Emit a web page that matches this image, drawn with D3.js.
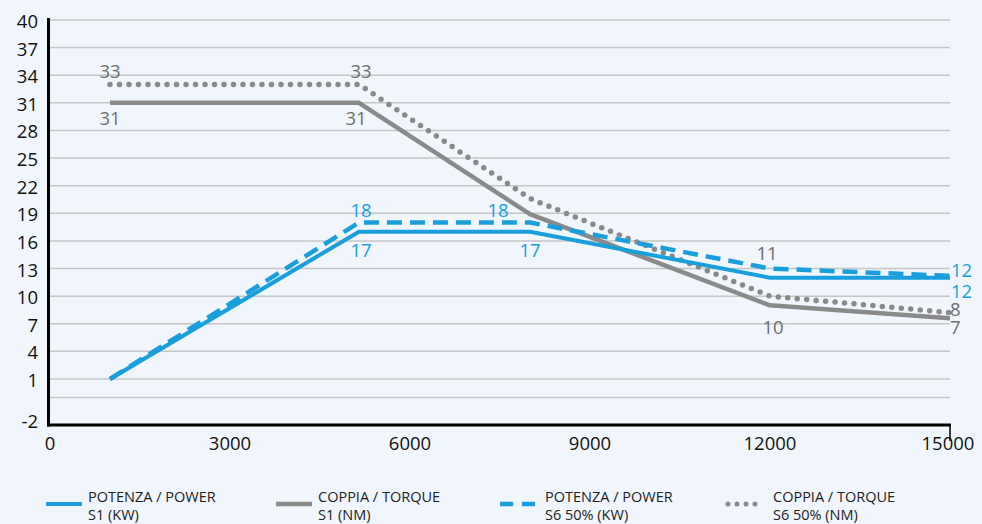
<!DOCTYPE html>
<html><head><meta charset="utf-8">
<script src="https://cdn.jsdelivr.net/npm/d3@7"></script>
<style>
html,body{margin:0;padding:0;background:#f1f6fd;}
svg{display:block;font-family:"Open Sans",sans-serif;}
</style></head>
<body><svg id="c" width="982" height="524"></svg>
<script>
// ---- data ----
const rpm = [1000, 5150, 8000, 12000, 15000];
const powerS1 = [1, 17, 17, 12, 12];
const torqueS1 = [31, 31, 18.9, 9, 7.6];
const powerS6 = [1, 18, 18, 13, 12.2];
const torqueS6 = [33, 33, 20.6, 10, 8.2];
const xTicks = [0, 3000, 6000, 9000, 12000, 15000];
const yTicks = [40, 37, 34, 31, 28, 25, 22, 19, 16, 13, 10, 7, 4, 1];
const yExtraGrid = [-1];
const yLastLabel = "-2";
const legendLabels = [["POTENZA / POWER","S1 (KW)"],["COPPIA / TORQUE","S1 (NM)"],["POTENZA / POWER","S6 50% (KW)"],["COPPIA / TORQUE","S6 50% (NM)"]];
// data labels: [x, y, text, series]
const pointLabels = [
  [1000, 33, "33", "t"], [1000, 31, "31", "t"],
  [5150, 33, "33", "t"], [5150, 31, "31", "t"],
  [5150, 18, "18", "p"], [5150, 17, "17", "p"],
  [8000, 18, "18", "p"], [8000, 17, "17", "p"],
  [12000, 13, "11", "t"], [12000, 9, "10", "t"],
  [15000, 12.2, "12", "p"], [15000, 12, "12", "p"],
  [15000, 8.2, "8", "t"], [15000, 7.6, "7", "t"]
];

const blue = "#199fdc", grey = "#8a8a8a", labGrey = "#6e6e6e";
const svg = d3.select("#c");
const x = d3.scaleLinear().domain([0, 15000]).range([50, 950]);
const y = d3.scaleLinear().domain([-4, 40]).range([425, 20]);

// grid
const gridVals = yTicks.concat(yExtraGrid);
svg.append("g").selectAll("line").data(gridVals).join("line")
  .attr("x1", 50).attr("x2", 950).attr("y1", d => y(d)).attr("y2", d => y(d))
  .attr("stroke", "#c6c6c6").attr("stroke-width", 1.5);

// y labels
const yl = svg.append("g").attr("font-size", 18.5).attr("fill", "#111").attr("text-anchor", "end");
yl.selectAll("text").data(yTicks).join("text")
  .attr("x", 38).attr("y", d => y(d) + 8).text(d => d);
yl.append("text").attr("x", 38).attr("y", y(-3.5) + 8).text(yLastLabel);

// axes
svg.append("line").attr("x1", 48.5).attr("x2", 48.5).attr("y1", 18).attr("y2", 426.5)
  .attr("stroke", "#000").attr("stroke-width", 3);
svg.append("line").attr("x1", 47).attr("x2", 951).attr("y1", 425).attr("y2", 425)
  .attr("stroke", "#000").attr("stroke-width", 3);
svg.append("line").attr("x1", x(15000)).attr("x2", x(15000)).attr("y1", 424).attr("y2", 441)
  .attr("stroke", "#000").attr("stroke-width", 1.5);
svg.append("g").attr("font-size", 18.5).attr("fill", "#111").attr("text-anchor", "middle")
  .selectAll("text").data(xTicks).join("text")
  .attr("x", d => d === 15000 ? x(d) - 2 : x(d)).attr("y", 450).text(d => d);

// lines
const line = d3.line().x(d => x(d[0])).y(d => y(d[1]));
const mk = v => rpm.map((r, i) => [r, v[i]]);
function draw(vals, color, dash, w, cap) {
  svg.append("path").attr("d", line(mk(vals))).attr("fill", "none")
    .attr("stroke", color).attr("stroke-width", w)
    .attr("stroke-dasharray", dash).attr("stroke-linecap", cap).attr("stroke-linejoin", "round");
}
draw(torqueS6, grey, "0 9.5", 5.5, "round");
draw(torqueS1, grey, null, 4.5, "butt");
draw(powerS6, blue, "15 8", 4.5, "butt");
draw(powerS1, blue, null, 4, "butt");

// point labels
const lblPos = {
  "1000|33": [0, -6], "1000|31": [0, 22],
  "5150|33": [2, -6], "5150|31": [-3, 22],
  "5150|18": [2, -6], "5150|17": [2, 25],
  "8000|18": [-32, -6], "8000|17": [0, 25],
  "12000|13": [-3, -9], "12000|9": [3, 29],
  "15000|12.2": [0, 1], "15000|12": [0, 20],
  "15000|8.2": [-1, 3], "15000|7.6": [-1, 16]
};
svg.append("g").attr("font-size", 18.5).selectAll("text").data(pointLabels).join("text")
  .attr("x", d => x(d[0]) + lblPos[d[0] + "|" + d[1]][0] + (d[0] === 15000 ? 1 : 0))
  .attr("y", d => y(d[1]) + lblPos[d[0] + "|" + d[1]][1])
  .attr("text-anchor", d => d[0] === 15000 ? "start" : "middle")
  .attr("fill", d => d[3] === "p" ? blue : labGrey)
  .text(d => d[2]);

// legend
const legX = [46, 276, 500, 725];
const legTX = [88, 318, 545, 773];
const legStyle = [[blue, null, 4, "butt"], [grey, null, 4.5, "butt"], [blue, "13 9", 4.5, "butt"], [grey, "0 9", 5, "round"]];
legendLabels.forEach((lab, i) => {
  const s = legStyle[i];
  const x2 = i === 3 ? legX[i] + 38 : legX[i] + 36;
  svg.append("line").attr("x1", i === 3 ? legX[i] + 3 : legX[i]).attr("x2", x2).attr("y1", 504).attr("y2", 504)
    .attr("stroke", s[0]).attr("stroke-width", s[2]).attr("stroke-dasharray", s[1]).attr("stroke-linecap", s[3]);
  const t = svg.append("text").attr("x", legTX[i]).attr("y", 502).attr("font-size", 14.5).attr("fill", "#222");
  t.append("tspan").attr("x", legTX[i]).attr("y", 502).text(lab[0]);
  t.append("tspan").attr("x", legTX[i]).attr("y", 520).text(lab[1]);
});
</script></body></html>
